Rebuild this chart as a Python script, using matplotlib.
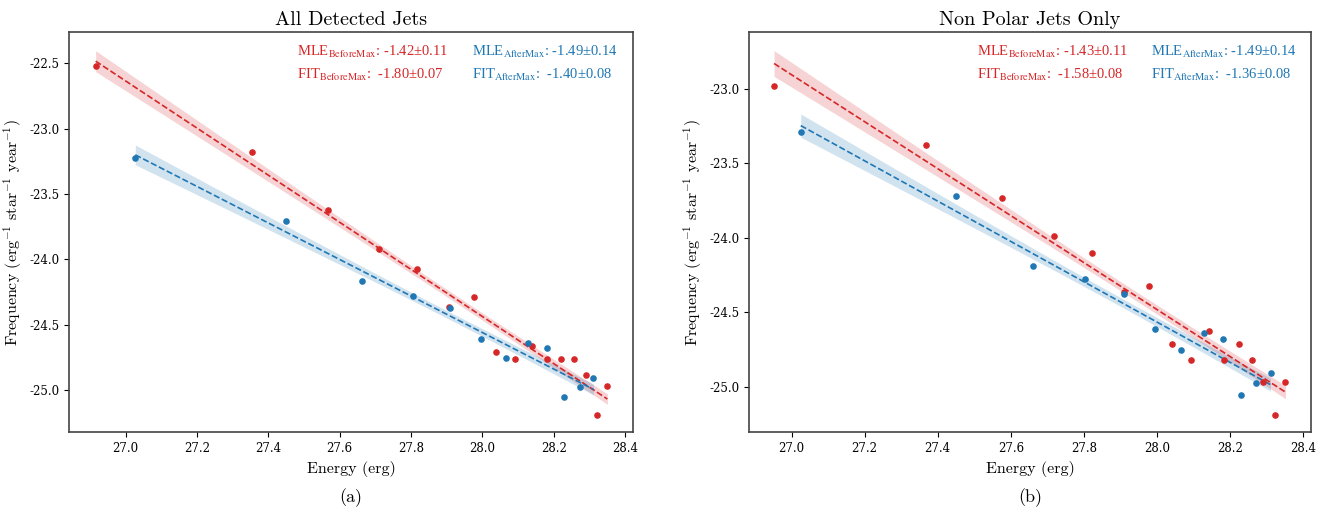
import numpy as np
import matplotlib
matplotlib.use("Agg")
import matplotlib.pyplot as plt

plt.rcParams['font.family'] = ['DejaVu Serif']
plt.rcParams['axes.unicode_minus'] = False

RED = '#d62728'
BLUE = '#1f77b4'

# All detected jets: log energy / log frequency
all_before_E = [26.916, 27.355, 27.567, 27.710, 27.817, 27.905, 27.975, 28.037,
                28.090, 28.139, 28.182, 28.221, 28.257, 28.290, 28.321, 28.350]
all_before_F = [-22.518, -23.181, -23.626, -23.924, -24.075, -24.364, -24.287, -24.713,
                -24.764, -24.665, -24.764, -24.764, -24.764, -24.889, -25.191, -24.968]
all_after_E = [27.027, 27.450, 27.661, 27.804, 27.909, 27.995, 28.066, 28.127,
               28.182, 28.229, 28.272, 28.311]
all_after_F = [-23.223, -23.705, -24.165, -24.280, -24.376, -24.611, -24.757, -24.642,
               -24.678, -25.057, -24.979, -24.912]

# Non polar jets only
np_before_E = [26.952, 27.368, 27.576, 27.717, 27.823, 27.909, 27.979, 28.040,
               28.094, 28.142, 28.184, 28.224, 28.260, 28.291, 28.323, 28.352]
np_before_F = [-22.981, -23.377, -23.735, -23.986, -24.100, -24.362, -24.323, -24.711,
               -24.820, -24.623, -24.820, -24.711, -24.820, -24.966, -25.187, -24.966]
np_after_E = [27.025, 27.451, 27.662, 27.802, 27.909, 27.995, 28.067, 28.128,
              28.182, 28.230, 28.272, 28.311]
np_after_F = [-23.288, -23.717, -24.189, -24.279, -24.375, -24.610, -24.755, -24.641,
              -24.677, -25.057, -24.977, -24.909]

titles = ['All Detected Jets', 'Non Polar Jets Only']
panel_tags = ['(a)', '(b)']
mle_before = ['-1.42±0.11', '-1.43±0.11']
mle_after = ['-1.49±0.14', '-1.49±0.14']
fit_before = ['-1.80±0.07', '-1.58±0.08']
fit_after = ['-1.40±0.08', '-1.36±0.08']

datasets = [
    (all_before_E, all_before_F, all_after_E, all_after_F),
    (np_before_E, np_before_F, np_after_E, np_after_F),
]
xlims = [(26.842, 28.421), (26.884, 28.421)]
ylims = [(-25.325, -22.258), (-25.305, -22.617)]


def fit_and_draw(ax, x, y, color):
    x = np.array(x)
    y = np.array(y)
    p, cov = np.polyfit(x, y, 1, cov=True)
    xs = np.linspace(x.min(), x.max(), 200)
    ys = np.polyval(p, xs)
    err = np.sqrt(cov[0, 0] * xs**2 + cov[1, 1] + 2 * cov[0, 1] * xs)
    ax.fill_between(xs, ys - err, ys + err, color=color, alpha=0.2, lw=0)
    ax.plot(xs, ys, '--', color=color, lw=1.2)
    ax.scatter(x, y, s=14, color=color, zorder=3)


fig = plt.figure(figsize=(13.32, 5.18), dpi=100)
positions = [[0.052, 0.1654, 0.423, 0.7734], [0.5625, 0.1654, 0.4215, 0.7734]]

for i in range(2):
    ax = fig.add_axes(positions[i])
    bE, bF, aE, aF = datasets[i]
    fit_and_draw(ax, bE, bF, RED)
    fit_and_draw(ax, aE, aF, BLUE)
    ax.set_xlim(*xlims[i])
    ax.set_ylim(*ylims[i])
    ax.set_xticks([27.0, 27.2, 27.4, 27.6, 27.8, 28.0, 28.2, 28.4])
    ax.tick_params(labelsize=8.5)
    for s in ax.spines.values():
        s.set_color('#444444')
        s.set_linewidth(1.2)

    ax.set_title(titles[i], family='cmr10', fontsize=14.5, pad=5)
    ax.set_xlabel('Energy (erg)', family='cmr10', fontsize=11.5)
    ax.set_ylabel(r'Frequency (erg$^{-1}$ star$^{-1}$ year$^{-1}$)', family='cmr10',
                  fontsize=11.5, math_fontfamily='cm')
    ax.text(0.5, -0.162, panel_tags[i], transform=ax.transAxes, ha='center', va='center',
            family='cmr10', fontsize=13)

    kw = dict(transform=ax.transAxes, va='center', fontsize=10.5,
              family='Liberation Serif', math_fontfamily='stix')
    ax.text(0.405, 0.949, r'MLE$_{\mathrm{BeforeMax}}$: ' + mle_before[i], color=RED, **kw)
    ax.text(0.405, 0.892, r'FIT$_{\mathrm{BeforeMax}}$:  ' + fit_before[i], color=RED, **kw)
    ax.text(0.715, 0.949, r'MLE$_{\mathrm{AfterMax}}$: ' + mle_after[i], color=BLUE, **kw)
    ax.text(0.715, 0.892, r'FIT$_{\mathrm{AfterMax}}$:  ' + fit_after[i], color=BLUE, **kw)

fig.savefig('out.png', dpi=100)
